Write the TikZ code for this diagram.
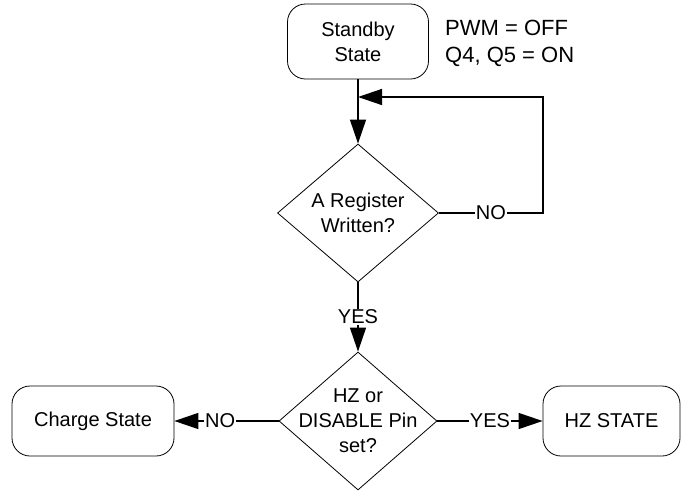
\documentclass[tikz,border=0pt]{standalone}
\usepackage{fontspec}
\setmainfont{Liberation Sans}
\usetikzlibrary{arrows.meta,shapes.geometric}

\tikzset{
  state/.style={draw, line width=0.8pt, rounded corners=18pt, align=center, inner sep=0pt},
  decide/.style={draw, diamond, line width=0.8pt, inner sep=0pt},
  tag/.style={fill=white, inner sep=1pt},
  flow/.style={line width=1.4pt, -{Triangle[length=24pt,width=16pt]}},
}

\begin{document}
\begin{tikzpicture}[x=1pt, y=-1pt, font=\fontsize{20}{25}\selectfont]
\useasboundingbox (0,0) rectangle (681,496);
\node[state, minimum width=141, minimum height=75] (standby) at (358,41.5) {Standby\\State};
\node[anchor=west, align=left, inner sep=0pt, font=\fontsize{22}{27}\selectfont] (note) at (445,43) {PWM = OFF\\Q4, Q5 = ON};
\node[decide, minimum width=161, minimum height=138,
  label={[align=center]center:A Register\\Written?}] (dec1) at (358,213) {};
\node[decide, minimum width=158, minimum height=138,
  label={[align=center]center:HZ or\\DISABLE Pin\\set?}] (dec2) at (358,421) {};
\node[state, minimum width=162, minimum height=70] (charge) at (93,421) {Charge State};
\node[state, minimum width=137, minimum height=70] (hz) at (611.5,421) {HZ STATE};
\coordinate (join) at (358,97);
\coordinate (loop) at (543,97);
% main path
\draw[flow] (standby) -- (dec1);
\draw[flow] (dec1.east) -- node[tag]{NO} (dec1.east -| loop) -- (loop) -- (join);
\draw[flow] (dec1) -- node[tag]{YES} (dec2);
% branches
\draw[flow] (dec2.west) -- node[tag, pos=0.56]{NO} (charge);
\draw[flow] (dec2.east) -- node[tag]{YES} (hz);
\end{tikzpicture}
\end{document}
